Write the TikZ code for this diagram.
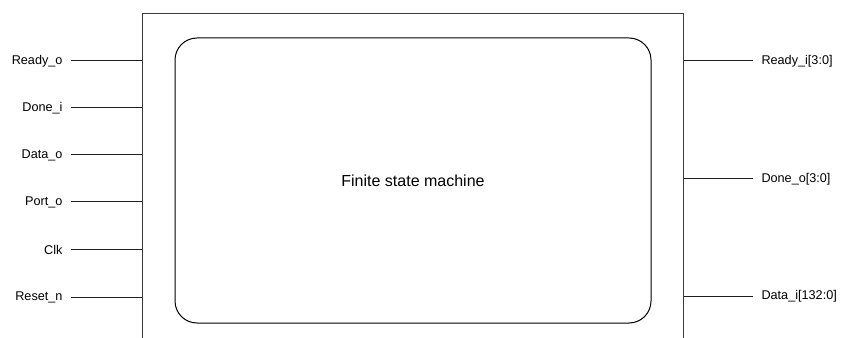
\documentclass[tikz,border=0pt]{standalone}
\usepackage{fontspec}
\setmainfont{Liberation Sans}

\tikzset{every picture/.style={line width=0.75pt}}
\tikzset{
  pinlbl/.style={inner ysep=0.75pt, inner xsep=6pt, font=\fontsize{9.5}{11}\selectfont},
  pinwire/.style={draw={rgb, 255:red, 30; green, 30; blue, 30}},
}

\begin{document}
\begin{tikzpicture}[x=0.75pt,y=0.75pt,yscale=-1,xscale=1]
\useasboundingbox (0,0) rectangle (842,338);
\clip (0,0) rectangle (842,338);

%Shape: Rectangle
\node (blk) [draw={rgb, 255:red, 60; green, 60; blue, 60}, minimum width=541*0.75pt, minimum height=346*0.75pt, inner sep=0pt] at (412.5,187) {};
%Rounded Rect
\node (fsm) [draw, rounded corners=16.5pt, minimum width=476*0.75pt, minimum height=285*0.75pt, inner sep=0pt, font=\fontsize{12}{14}\selectfont] at (413,180.5) {Finite state machine};

% Text Node
\node (rdyo) [pinlbl, anchor=east] at (71,61) {Ready\_o};
\node (donei) [pinlbl, anchor=east] at (71,108) {Done\_i};
\node (datao) [pinlbl, anchor=east] at (71,155) {Data\_o};
\node (porto) [pinlbl, anchor=east] at (71,202) {Port\_o};
\node (clk) [pinlbl, anchor=east] at (71,249.5) {Clk};
\node (rstn) [pinlbl, anchor=east] at (71,297) {Reset\_n};
% Text Node
\node (rdyi) [pinlbl, anchor=west] at (753,61) {Ready\_i[3:0]};
\node (doneo) [pinlbl, anchor=west] at (753,179) {Done\_o[3:0]};
\node (datai) [pinlbl, anchor=west] at (753,296) {Data\_i[132:0]};

%Straight Lines
\foreach \p in {rdyo,donei,datao,porto,clk,rstn}
  \draw [pinwire] (\p.east) -- (\p.east -| blk.west) ;
%Straight Lines
\foreach \p in {rdyi,doneo,datai}
  \draw [pinwire] (\p.west) -- (\p.west -| blk.east) ;

\end{tikzpicture}
\end{document}
